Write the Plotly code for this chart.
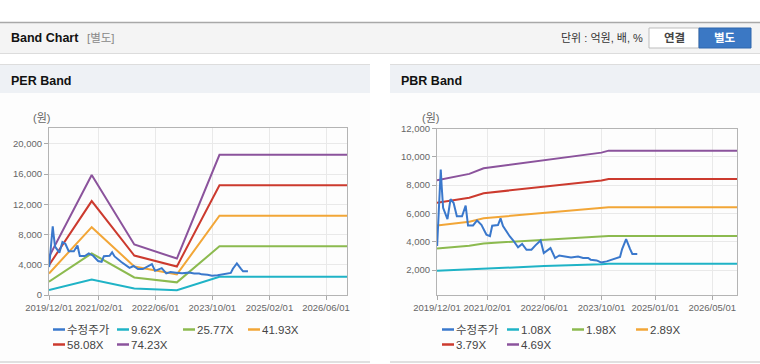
import plotly.graph_objects as go

W, H = 760, 364
FONT = "Liberation Sans, Arial, 'Noto Sans CJK KR', sans-serif"
KFONT = "Liberation Sans, 'Noto Sans CJK KR', sans-serif"

# ---------------- data ----------------
price_dates = ["2019-12-02", "2019-12-18", "2020-01-02", "2020-01-10", "2020-01-22",
               "2020-02-28", "2020-03-25", "2020-04-20", "2020-05-18", "2020-07-01",
               "2020-08-01", "2020-08-21", "2020-10-03", "2020-11-06", "2020-12-13",
               "2021-01-25", "2021-02-24", "2021-03-15", "2021-05-03", "2021-05-25",
               "2021-06-15", "2021-08-12", "2021-09-09", "2021-10-21", "2021-11-25",
               "2022-01-01", "2022-02-12", "2022-03-18", "2022-05-01", "2022-05-28",
               "2022-06-19", "2022-07-24", "2022-09-01", "2022-10-07", "2022-11-24",
               "2023-01-15", "2023-03-16", "2023-04-28", "2023-06-10", "2023-07-01",
               "2023-08-21", "2023-09-28", "2023-11-15", "2023-12-28", "2024-01-25",
               "2024-03-07", "2024-03-25", "2024-04-28", "2024-06-01", "2024-06-20",
               "2024-08-01"]
price_values = [3700, 6300, 9100, 7900, 6400, 5600, 7000, 6750, 5800, 5800,
                6550, 5150, 5150, 5500, 5200, 4500, 4400, 5130, 5180, 5650,
                5100, 4370, 4100, 3600, 3840, 3430, 3430, 3740, 4090, 3200,
                3320, 3550, 2850, 3030, 2960, 2890, 2960, 2850, 2850, 2730,
                2680, 2540, 2610, 2730, 2850, 2920, 3480, 4190, 3480, 3130,
                3130]

per_dates = ["2019-12-01", "2020-12-01", "2021-12-01", "2022-12-01", "2023-12-01", "2026-12-31"]
per_names = ["9.62X", "25.77X", "41.93X", "58.08X", "74.23X"]
per_962 = [654, 2059, 866, 625, 2405, 2405]
per_2577 = [1752, 5515, 2319, 1675, 6443, 6443]
per_4193 = [2851, 8973, 3774, 2725, 10483, 10483]
per_5808 = [3949, 12429, 5227, 3775, 14520, 14520]
per_7423 = [5048, 15885, 6681, 4825, 18558, 18558]

pbr_dates = ["2019-12-01", "2020-09-01", "2021-01-01", "2022-06-01", "2023-10-01", "2023-12-01", "2026-12-31"]
pbr_names = ["1.08X", "1.98X", "2.89X", "3.79X", "4.69X"]
pbr_108 = [1950, 2050, 2140, 2280, 2410, 2450, 2450]
pbr_198 = [3524, 3713, 3881, 4128, 4346, 4406, 4406]
pbr_289 = [5144, 5419, 5664, 6026, 6344, 6430, 6430]
pbr_379 = [6746, 7106, 7428, 7902, 8319, 8433, 8433]
pbr_469 = [8348, 8794, 9192, 9779, 10295, 10435, 10435]

price_name = "수정주가"

per_xtick_vals = ["2019-12-01", "2021-02-01", "2022-06-01", "2023-10-01", "2025-02-01", "2026-06-01"]
pbr_xtick_vals = ["2019-12-01", "2021-02-01", "2022-06-01", "2023-10-01", "2025-01-01", "2026-05-01"]
per_ytick_vals = [0, 4000, 8000, 12000, 16000, 20000]
pbr_ytick_vals = [2000, 4000, 6000, 8000, 10000, 12000]

# ---------------- style ----------------
C_PRICE = "#3a78cc"
BAND_COLORS = ["#1fb3c6", "#8cba4f", "#f2a637", "#cc3a2e", "#8b539c"]


def px(x):
    return x / W


def py(y):
    return 1 - y / H


fig = go.Figure()

for name, vals, col in zip(per_names, [per_962, per_2577, per_4193, per_5808, per_7423], BAND_COLORS):
    fig.add_trace(go.Scatter(x=per_dates, y=vals, mode="lines", name=name,
                             line=dict(color=col, width=2), xaxis="x", yaxis="y",
                             showlegend=False))
fig.add_trace(go.Scatter(x=price_dates, y=price_values, mode="lines", name=price_name,
                         line=dict(color=C_PRICE, width=2), xaxis="x", yaxis="y",
                         showlegend=False))

for name, vals, col in zip(pbr_names, [pbr_108, pbr_198, pbr_289, pbr_379, pbr_469], BAND_COLORS):
    fig.add_trace(go.Scatter(x=pbr_dates, y=vals, mode="lines", name=name,
                             line=dict(color=col, width=2), xaxis="x2", yaxis="y2",
                             showlegend=False))
fig.add_trace(go.Scatter(x=price_dates, y=price_values, mode="lines", name=price_name,
                         line=dict(color=C_PRICE, width=2), xaxis="x2", yaxis="y2",
                         showlegend=False))

axis_common = dict(showline=True, linecolor="#b4b4b4", linewidth=1, mirror=True,
                   showgrid=True, gridcolor="#e9e9e9", gridwidth=1,
                   ticks="outside", ticklen=4, tickcolor="#aaaaaa",
                   tickfont=dict(family=FONT, size=9.5, color="#666666"),
                   zeroline=False, fixedrange=True, automargin=False, tickangle=0)

xr = ["2019-12-01", "2026-11-28"]
fig.update_layout(
    width=W, height=H, autosize=False, margin=dict(l=0, r=0, t=0, b=0, pad=0),
    paper_bgcolor="white", plot_bgcolor="rgba(0,0,0,0)",
    showlegend=False, hovermode=False,
    xaxis=dict(domain=[px(49), px(347)], range=xr, type="date",
               tickmode="array", tickvals=per_xtick_vals,
               ticktext=[d.replace("-", "/") for d in per_xtick_vals],
               anchor="y", **axis_common),
    yaxis=dict(domain=[py(295), py(128)], range=[0, 22100],
               tickmode="array", tickvals=per_ytick_vals,
               ticktext=[f"{v:,}" for v in per_ytick_vals],
               anchor="x", **axis_common),
    xaxis2=dict(domain=[px(437), px(737)], range=xr, type="date",
                tickmode="array", tickvals=pbr_xtick_vals,
                ticktext=[d.replace("-", "/") for d in pbr_xtick_vals],
                anchor="y2", **axis_common),
    yaxis2=dict(domain=[py(295), py(128.5)], range=[235, 12000],
                tickmode="array", tickvals=pbr_ytick_vals,
                ticktext=[f"{v:,}" for v in pbr_ytick_vals],
                anchor="x2", **axis_common),
)

shapes = []
annos = []


def rect(x0, y0, x1, y1, fill, line=None, lw=0):
    shapes.append(dict(type="rect", xref="paper", yref="paper", layer="below",
                       x0=px(x0), x1=px(x1), y0=py(y1), y1=py(y0),
                       fillcolor=fill, line=dict(color=line or fill, width=lw)))


def hline(x0, x1, y, color, w=1, layer="below"):
    shapes.append(dict(type="line", xref="paper", yref="paper", layer=layer,
                       x0=px(x0), x1=px(x1), y0=py(y), y1=py(y),
                       line=dict(color=color, width=w)))


def text(x, y, s, size, color, anchor="left", bold=False, family=KFONT):
    annos.append(dict(xref="paper", yref="paper", x=px(x), y=py(y),
                      text=f"<b>{s}</b>" if bold else s, showarrow=False,
                      xanchor=anchor, yanchor="middle", borderpad=0,
                      font=dict(family=family, size=size, color=color)))


# top header band
rect(0, 22, 760, 53, "#f4f4f4")
hline(0, 760, 22.5, "#a8a8a8", 1.5)
hline(0, 760, 53.5, "#dcdcdc", 1)
text(10, 38.5, "Band Chart", 12.5, "#111111", bold=True)
text(86, 38.5, "[별도]", 11.5, "#888888")
text(644, 38.5, "단위 : 억원, 배, %", 11, "#333333", anchor="right")
# buttons
rect(649, 28, 699, 48, "#ffffff", "#bdbdbd", 1)
rect(699, 28, 751, 48, "#3b78c4", "#2f67ad", 1)
text(674, 38.5, "연결", 11.5, "#444444", anchor="center", bold=True)
text(725, 38.5, "별도", 11.5, "#ffffff", anchor="center", bold=True)

# panels
for (x0, x1) in [(0, 370), (390, 760)]:
    rect(x0, 65, x1, 362, "#fdfdfd")
    rect(x0, 65, x1, 93, "#eef1f5")
    hline(x0, x1, 64.5, "#dddddd", 1)
    hline(x0, x1, 362, "#d6d6d6", 1.5)

text(10, 80.5, "PER Band", 12.5, "#111111", bold=True)
text(400, 80.5, "PBR Band", 12.5, "#111111", bold=True)
text(32, 118, "(원)", 11, "#666666")
text(421, 118.5, "(원)", 11, "#666666")


def legend(cols_x, rows_y, items):
    for i, (label, col) in enumerate(items):
        r, c = divmod(i, 4)
        x = cols_x[c]
        y = rows_y[r]
        shapes.append(dict(type="line", xref="paper", yref="paper", layer="above",
                           x0=px(x), x1=px(x + 12), y0=py(y), y1=py(y),
                           line=dict(color=col, width=2.5)))
        text(x + 12.5, y, label, 11.5, "#444444")


legend([53, 117, 183, 248], [329.5, 344.5],
       [(price_name, C_PRICE)] + list(zip(per_names, BAND_COLORS)))
legend([442, 507, 572, 636], [329.5, 344.5],
       [(price_name, C_PRICE)] + list(zip(pbr_names, BAND_COLORS)))

fig.update_layout(shapes=shapes, annotations=annos)
fig.write_html("out.html", config={"displayModeBar": False, "staticPlot": True},
               post_script="document.body.style.margin='0';document.body.style.overflow='hidden';")
